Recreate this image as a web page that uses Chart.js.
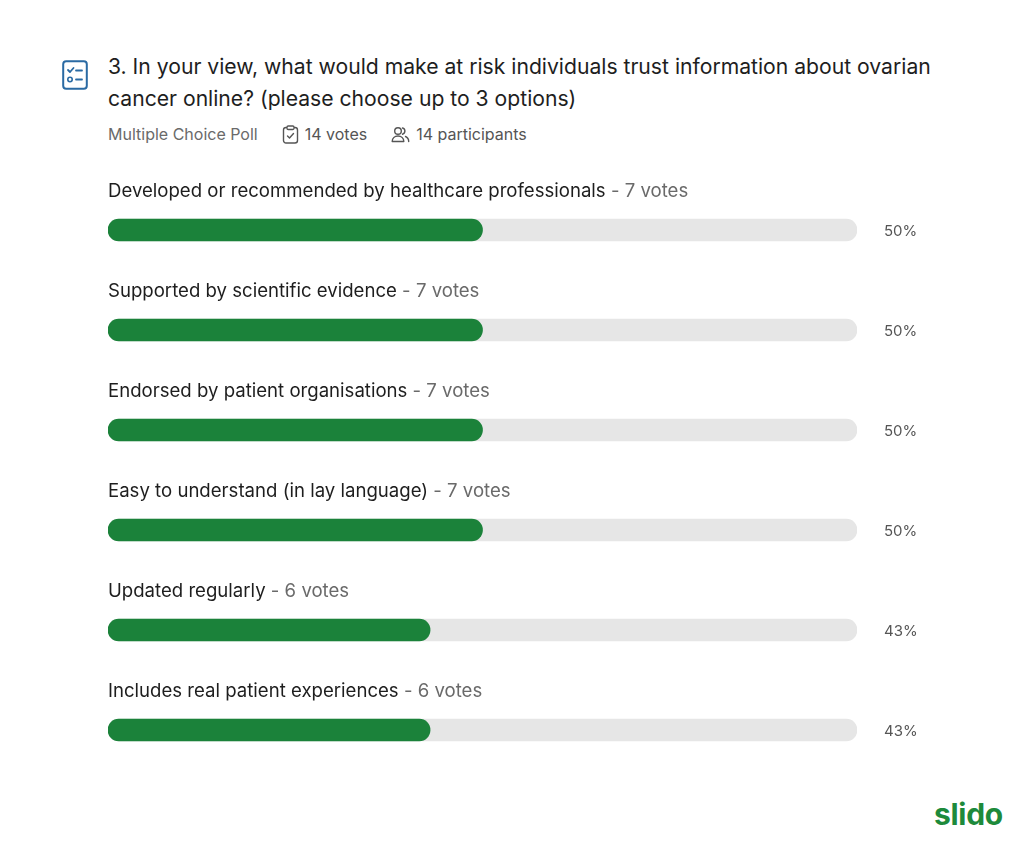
<!DOCTYPE html>
<html>
<head>
<meta charset="utf-8">
<script src="https://cdn.jsdelivr.net/npm/chart.js@4"></script>
<style>
  body { margin: 0; background: #fff; font-family: Inter, "Noto Sans", sans-serif; }
  #page { position: relative; width: 1024px; height: 860px; overflow: hidden; }
  #icon { position: absolute; left: 62px; top: 60px; }
  #title { position: absolute; left: 108px; top: 51px; width: 880px; font-size: 21.15px; line-height: 32px; color: #1e1e1e; }
  #meta { position: absolute; left: 108px; top: 124px; font-size: 16px; color: #6a6a6a; display: flex; align-items: center; white-space: nowrap; }
  #meta .item { display: flex; align-items: center; color: #555; }
  #meta svg { margin-right: 6px; }
  #wrap { position: absolute; left: 0; top: 160px; width: 1024px; height: 620px; }
  #logo { position: absolute; left: 934px; top: 796px; font-size: 30px; font-weight: 700; color: #1d8a3b; letter-spacing: -0.3px; }
</style>
</head>
<body>
<div id="page">
  <svg id="icon" width="26" height="30" viewBox="0 0 26 30">
    <rect x="1.2" y="1.2" width="23.6" height="27.6" rx="3" fill="none" stroke="#2a6aa3" stroke-width="2"/>
    <path d="M6 10 l2 2 l3.5 -4" fill="none" stroke="#2a6aa3" stroke-width="1.8" stroke-linecap="round" stroke-linejoin="round"/>
    <line x1="14" y1="10.5" x2="20" y2="10.5" stroke="#2a6aa3" stroke-width="1.8" stroke-linecap="round"/>
    <circle cx="8" cy="19.5" r="2.2" fill="none" stroke="#2a6aa3" stroke-width="1.6"/>
    <line x1="14" y1="19.5" x2="20" y2="19.5" stroke="#2a6aa3" stroke-width="1.8" stroke-linecap="round"/>
  </svg>
  <div id="title">3. In your view, what would make at risk individuals trust information about ovarian cancer online? (please choose up to 3 options)</div>
  <div id="meta">
    <span>Multiple Choice Poll</span>
    <span class="item" style="margin-left:24px">
      <svg width="17" height="19" viewBox="0 0 17 19"><rect x="1.5" y="2.5" width="14" height="15.5" rx="2.5" fill="none" stroke="#555" stroke-width="1.4"/><rect x="5" y="1" width="7" height="3.5" rx="1.2" fill="#fff" stroke="#555" stroke-width="1.3"/><path d="M5.5 11 l2 2 l4 -4.5" fill="none" stroke="#555" stroke-width="1.4" stroke-linecap="round" stroke-linejoin="round"/></svg>
      <span>14 votes</span>
    </span>
    <span class="item" style="margin-left:24px">
      <svg width="19" height="17" viewBox="0 0 19 17"><circle cx="7" cy="5" r="3.3" fill="none" stroke="#555" stroke-width="1.4"/><path d="M1.2 15.5 c0 -3.5 2.6 -5.5 5.8 -5.5 s5.8 2 5.8 5.5 z" fill="none" stroke="#555" stroke-width="1.4" stroke-linejoin="round"/><path d="M11.5 2 a3.2 3.2 0 0 1 0 6.2" fill="none" stroke="#555" stroke-width="1.4" stroke-linecap="round"/><path d="M14.5 10.5 c2 0.8 3.2 2.5 3.2 5" fill="none" stroke="#555" stroke-width="1.4" stroke-linecap="round"/></svg>
      <span>14 participants</span>
    </span>
  </div>
  <div id="wrap"><canvas id="myChart" width="1024" height="620"></canvas></div>
  <div id="logo">slido</div>
</div>
<script>
const categories = [
  'Developed or recommended by healthcare professionals',
  'Supported by scientific evidence',
  'Endorsed by patient organisations',
  'Easy to understand (in lay language)',
  'Updated regularly',
  'Includes real patient experiences'
];
const votes = [7, 7, 7, 7, 6, 6];
const percents = [50, 50, 50, 50, 43, 43];
const trackValues = [100, 100, 100, 100, 100, 100];

const ctx = document.getElementById('myChart').getContext('2d');

const optionLabels = {
  id: 'optionLabels',
  afterDatasetsDraw(chart) {
    const c = chart.ctx;
    const y = chart.scales.y;
    const area = chart.chartArea;
    c.save();
    c.textBaseline = 'middle';
    categories.forEach((name, i) => {
      const py = y.getPixelForValue(i);
      c.font = '18.6px Inter, "Noto Sans", sans-serif';
      c.fillStyle = '#1e1e1e';
      c.textAlign = 'left';
      c.fillText(name, area.left, py - 39);
      const w = c.measureText(name).width;
      c.fillStyle = '#6a6a6a';
      c.fillText(' - ' + votes[i] + ' votes', area.left + w, py - 39);
      c.font = '15px Inter, "Noto Sans", sans-serif';
      c.fillStyle = '#555';
      c.fillText(percents[i] + '%', area.right + 27, py + 1);
    });
    c.restore();
  }
};

new Chart(ctx, {
  type: 'bar',
  data: {
    labels: categories,
    datasets: [{
      data: percents,
      backgroundColor: '#1b823a',
      barThickness: 22,
      borderRadius: 11,
      borderSkipped: false,
      order: 1
    }, {
      data: trackValues,
      backgroundColor: '#e6e6e6',
      barThickness: 22,
      borderRadius: 11,
      borderSkipped: false,
      order: 2
    }]
  },
  options: {
    indexAxis: 'y',
    responsive: false,
    animation: false,
    layout: { padding: { left: 108, right: 167, top: 20, bottom: 0 } },
    datasets: { bar: { grouped: false } },
    plugins: { legend: { display: false }, tooltip: { enabled: false } },
    scales: {
      x: { min: 0, max: 100, display: false },
      y: { display: false }
    }
  },
  plugins: [optionLabels]
});
</script>
</body>
</html>
